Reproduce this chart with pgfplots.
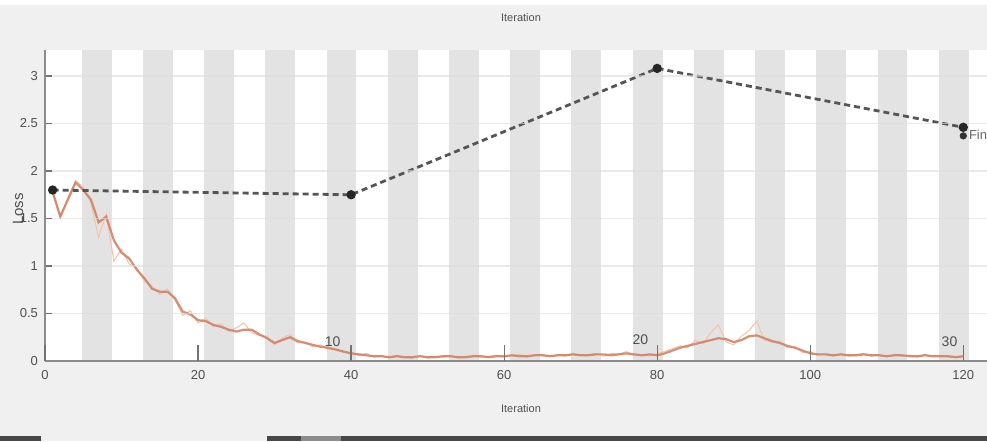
\documentclass[border=0pt]{standalone}
\usepackage{fontspec}
\setmainfont{Liberation Sans}
\usepackage{pgfplots}
\pgfplotsset{compat=1.18}
\definecolor{bg}{HTML}{F0F0F0}
\definecolor{stripe}{HTML}{E3E3E3}
\definecolor{rawc}{HTML}{F5C2A8}
\definecolor{smoothc}{HTML}{CC7F60}
\definecolor{valc}{HTML}{555555}
\definecolor{txt}{HTML}{505050}
\definecolor{gridc}{HTML}{DDDDDD}

\pgfplotstableread{
it loss
1 1.78
2 1.52
3 1.70
4 1.88
5 1.80
6 1.70
7 1.46
8 1.52
9 1.27
10 1.14
11 1.08
12 0.96
13 0.87
14 0.76
15 0.73
16 0.73
17 0.66
18 0.52
19 0.49
20 0.43
21 0.42
22 0.38
23 0.36
24 0.33
25 0.31
26 0.33
27 0.33
28 0.28
29 0.24
30 0.19
31 0.22
32 0.25
33 0.21
34 0.19
35 0.17
36 0.15
37 0.14
38 0.12
39 0.10
40 0.08
41 0.07
42 0.06
43 0.05
44 0.05
45 0.04
46 0.05
47 0.04
48 0.04
49 0.05
50 0.04
51 0.04
52 0.05
53 0.05
54 0.04
55 0.04
56 0.05
57 0.05
58 0.04
59 0.05
60 0.05
61 0.06
62 0.05
63 0.05
64 0.06
65 0.06
66 0.05
67 0.06
68 0.06
69 0.07
70 0.06
71 0.06
72 0.07
73 0.07
74 0.06
75 0.07
76 0.08
77 0.07
78 0.06
79 0.07
80 0.06
81 0.08
82 0.11
83 0.14
84 0.16
85 0.18
86 0.20
87 0.22
88 0.24
89 0.23
90 0.20
91 0.22
92 0.26
93 0.27
94 0.24
95 0.21
96 0.19
97 0.16
98 0.14
99 0.11
100 0.08
101 0.07
102 0.07
103 0.06
104 0.07
105 0.06
106 0.06
107 0.07
108 0.06
109 0.06
110 0.05
111 0.06
112 0.06
113 0.05
114 0.05
115 0.06
116 0.05
117 0.05
118 0.05
119 0.04
120 0.05
}\smoothtab

\pgfplotstableread{
it loss
1 1.78
2 1.52
3 1.72
4 1.90
5 1.83
6 1.66
7 1.30
8 1.55
9 1.05
10 1.18
11 1.02
12 0.98
13 0.84
14 0.79
15 0.70
16 0.76
17 0.64
18 0.48
19 0.53
20 0.40
21 0.45
22 0.36
23 0.39
24 0.31
25 0.35
26 0.40
27 0.30
28 0.27
29 0.26
30 0.17
31 0.24
32 0.28
33 0.19
34 0.20
35 0.15
36 0.17
37 0.12
38 0.13
39 0.09
40 0.09
41 0.06
42 0.08
43 0.04
44 0.06
45 0.03
46 0.06
47 0.04
48 0.03
49 0.06
50 0.03
51 0.05
52 0.04
53 0.06
54 0.03
55 0.05
56 0.06
57 0.04
58 0.05
59 0.06
60 0.04
61 0.06
62 0.07
63 0.04
64 0.06
65 0.07
66 0.05
67 0.07
68 0.05
69 0.08
70 0.06
71 0.07
72 0.08
73 0.05
74 0.08
75 0.07
76 0.10
77 0.06
78 0.07
79 0.05
80 0.08
81 0.10
82 0.13
83 0.16
84 0.14
85 0.22
86 0.18
87 0.30
88 0.38
89 0.20
90 0.17
91 0.26
92 0.32
93 0.42
94 0.22
95 0.20
96 0.21
97 0.14
98 0.15
99 0.09
100 0.10
101 0.06
102 0.08
103 0.05
104 0.08
105 0.05
106 0.07
107 0.08
108 0.05
109 0.07
110 0.04
111 0.07
112 0.05
113 0.06
114 0.04
115 0.07
116 0.05
117 0.06
118 0.04
119 0.05
120 0.05
}\rawtab

\pgfplotstableread{
it loss
1 1.80
40 1.75
80 3.08
120 2.46
}\valtab

\begin{document}
\begin{tikzpicture}
\fill[bg] (-22.5pt,-40pt) rectangle (471pt,180.5pt);
\fill[white] (-22.5pt,178pt) rectangle (471pt,180.5pt);
\fill[black!72] (-22.5pt,-40pt) rectangle (-2pt,-37.3pt);
\fill[black!72] (111pt,-40pt) rectangle (471pt,-37.3pt);
\fill[black!45] (128pt,-40pt) rectangle (148pt,-37.3pt);

\begin{axis}[
  at={(0,0)}, anchor=south west,
  scale only axis, width=471pt, height=155.5pt,
  xmin=0, xmax=123.1, ymin=0, ymax=3.274,
  axis x line*=bottom, axis y line*=left,
  axis line style={draw=black!45, line width=0.7pt, -},
  axis background/.style={fill=white},
  axis on top,
  tick align=inside,
  xtick=\empty,
  extra x ticks={0,20,40,60,80,100,120},
  extra x tick style={major tick length=8pt},
  ytick={0,0.5,...,3},
  major tick length=3.5pt,
  tick style={draw=black!55, line width=0.6pt},
  ymajorgrids, grid style={draw=gridc, opacity=0.6, line width=0.7pt},
  /pgf/number format/assume math mode=true,
  ticklabel style={font=\fontsize{6.5}{7}\selectfont, text=txt},
  xticklabel style={yshift=-1pt},
  clip=false,
]
\pgfplotsinvokeforeach{4.8,12.8,20.8,28.8,36.8,44.8,52.8,60.8,68.8,76.8,84.8,92.8,100.8,108.8,116.8}{%
  \addplot[fill=stripe, draw=none, forget plot]
    coordinates {(#1,3.274) (#1+3.9,3.274)} \closedcycle;
}

\addplot[rawc, line width=0.5pt] table[x=it,y=loss] {\rawtab};
\addplot[smoothc, line width=1.1pt, opacity=0.85] table[x=it,y=loss] {\smoothtab};
\addplot[valc, line width=1.4pt, dash pattern=on 3pt off 2pt,
  mark=*, mark size=1.6pt, mark options={solid, fill=black!85, draw=black!85}]
  table[x=it,y=loss] {\valtab};
\addplot[only marks, mark=*, mark size=1.6pt, black!80] coordinates {(120,2.37)};

\node[font=\fontsize{7}{8}\selectfont, text=txt] at (axis cs:37.6,0.2) {10};
\node[font=\fontsize{7}{8}\selectfont, text=txt] at (axis cs:77.8,0.22) {20};
\node[font=\fontsize{7}{8}\selectfont, text=txt] at (axis cs:118.2,0.2) {30};
\node[font=\fontsize{6.5}{7}\selectfont, text=black!60, anchor=west, inner sep=0pt] at (axis cs:120.7,2.38) {Final};
\end{axis}

\node[font=\fontsize{5.5}{6}\selectfont, text=txt] at (238pt,171.5pt) {Iteration};
\node[font=\fontsize{5.5}{6}\selectfont, text=txt] at (238pt,-24pt) {Iteration};
\node[font=\fontsize{7.5}{8}\selectfont, text=txt, rotate=90] at (-13.5pt,76pt) {Loss};
\pgfresetboundingbox
\useasboundingbox (-22.5pt,-40pt) rectangle (471pt,180.5pt);
\end{tikzpicture}
\end{document}
